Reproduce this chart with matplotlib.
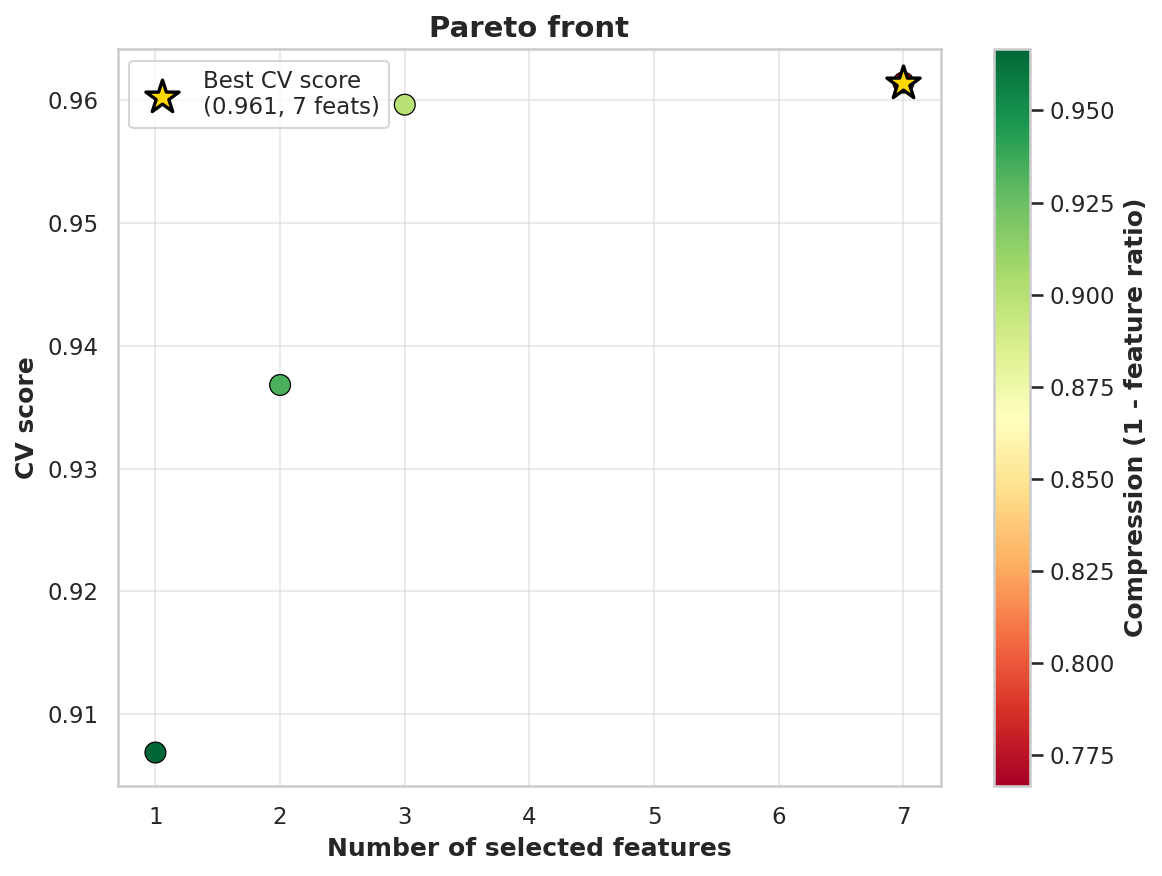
import numpy as np
import matplotlib
matplotlib.use('Agg')
import matplotlib.pyplot as plt
import seaborn as sns

sns.set_theme(style='whitegrid')

n_total = 30
n_features = [1, 2, 3, 7]
cv_scores = [0.9069, 0.9368, 0.9596, 0.9614]
best_n = 7
best_score = 0.9614

compression = [1 - n / n_total for n in n_features]

fig = plt.figure(figsize=(7.753, 5.84), dpi=150)
ax = fig.add_axes([0.1015, 0.1027, 0.7075, 0.8413])
cax = fig.add_axes([0.8547, 0.1027, 0.0309, 0.8413])

sc = ax.scatter(n_features, cv_scores, c=compression, cmap='RdYlGn',
                s=100, edgecolors='black', linewidths=0.6, zorder=3)
ax.scatter([best_n], [best_score], marker='*', s=280, c='gold',
           edgecolors='black', linewidths=1.6, zorder=4,
           label='Best CV score\n(%.3f, %d feats)' % (best_score, best_n))

cbar = fig.colorbar(sc, cax=cax)
cbar.set_label('Compression (1 - feature ratio)', fontweight='bold')

ax.set_xlabel('Number of selected features', fontweight='bold')
ax.set_ylabel('CV score', fontweight='bold')
ax.set_title('Pareto front', fontweight='bold', fontsize=14)
ax.set_xticks(range(1, 8))
ax.grid(True, alpha=0.4)
ax.legend(loc='upper left', frameon=True)

plt.savefig('out.png', dpi=150)
